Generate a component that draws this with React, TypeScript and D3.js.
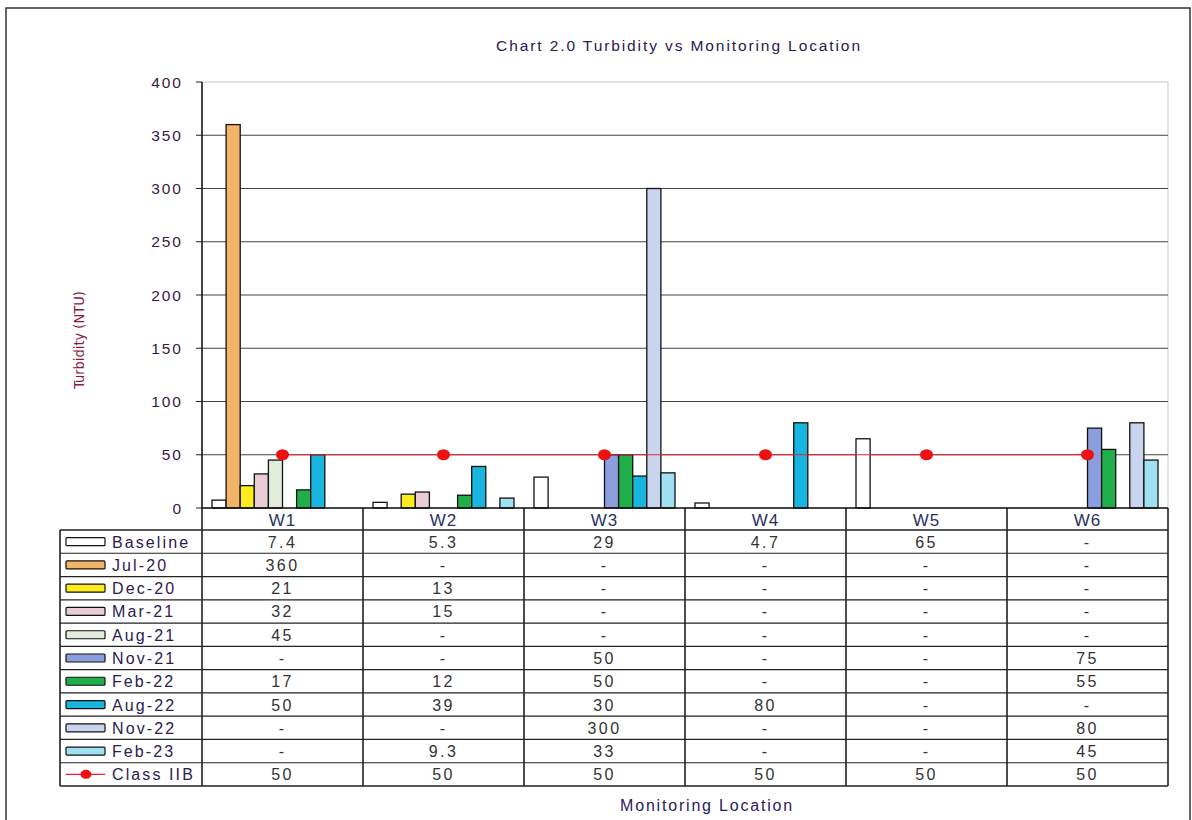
import React from "react";
import * as d3 from "d3";

const categories = ["W1", "W2", "W3", "W4", "W5", "W6"];
const seriesNames = ["Baseline", "Jul-20", "Dec-20", "Mar-21", "Aug-21", "Nov-21", "Feb-22", "Aug-22", "Nov-22", "Feb-23"];
const seriesColors = ["#ffffff", "#f2b568", "#fcec1c", "#e8cdd6", "#e1ecdc", "#8b9ede", "#1fae4a", "#18b6df", "#c9d5ee", "#9fe1f1"];
const baseline = [7.4, 5.3, 29, 4.7, 65, null];
const jul20 = [360, null, null, null, null, null];
const dec20 = [21, 13, null, null, null, null];
const mar21 = [32, 15, null, null, null, null];
const aug21 = [45, null, null, null, null, null];
const nov21 = [null, null, 50, null, null, 75];
const feb22 = [17, 12, 50, null, null, 55];
const aug22 = [50, 39, 30, 80, null, null];
const nov22 = [null, null, 300, null, null, 80];
const feb23 = [null, 9.3, 33, null, null, 45];
const classIIB = [50, 50, 50, 50, 50, 50];
const seriesValues = [baseline, jul20, dec20, mar21, aug21, nov21, feb22, aug22, nov22, feb23];
const yTicks = [0, 50, 100, 150, 200, 250, 300, 350, 400];

const W = 1192, H = 820;
const plotL = 202, plotR = 1168, plotT = 82, plotB = 508;
const tableL = 60, headerB = 530, tableB = 786;

export default function App() {
  const x = d3.scaleBand<string>().domain(categories).range([plotL, plotR]);
  const bw = x.bandwidth();
  const inner = d3.scaleBand<string>().domain(seriesNames).range([10, bw - 10]);
  const y = d3.scaleLinear().domain([0, 400]).range([plotB, plotT]);
  const rowCount = seriesNames.length + 1;
  const rowH = (tableB - headerB) / rowCount;
  const line = d3.line<number>().x((_, i) => (x(categories[i]) as number) + bw / 2).y((v) => y(v));
  const fmt = (v: number | null) => (v === null ? "-" : String(v));
  const txtFont = "Arial, 'Liberation Sans', sans-serif";
  const rows = seriesNames.map((n, i) => ({ name: n, color: seriesColors[i], vals: seriesValues[i] as (number | null)[] }));

  return (
    <svg width={W} height={H} style={{ position: "absolute", left: 0, top: 0, background: "#fff" }} fontFamily={txtFont}>
      <rect x={0} y={0} width={W} height={H} fill="#fff" />
      <rect x={6} y={8} width={1184} height={830} fill="none" stroke="#333" strokeWidth={1.5} />
      <text x={679} y={51} textAnchor="middle" fontSize={15.5} fill="#2a2050" letterSpacing={1.9}>Chart 2.0 Turbidity vs Monitoring Location</text>
      {/* plot border */}
      <rect x={plotL} y={plotT} width={plotR - plotL} height={plotB - plotT} fill="none" stroke="#c8c8c8" strokeWidth={1} />
      {yTicks.map((t) => (
        <g key={t}>
          {t > 0 && t < 400 && <line x1={plotL} x2={plotR} y1={y(t)} y2={y(t)} stroke="#444" strokeWidth={1.1} />}
          <line x1={plotL - 6} x2={plotL} y1={y(t)} y2={y(t)} stroke="#222" strokeWidth={1} />
          <text x={183} y={y(t) + 5.5} textAnchor="end" fontSize={15.5} fill="#3a1845" letterSpacing={2}>{t}</text>
        </g>
      ))}
      <text transform={`translate(84,340) rotate(-90)`} textAnchor="middle" fontSize={14.5} fill="#8a1a3c" fontFamily="'Liberation Sans Narrow', 'DejaVu Sans Condensed', Arial, sans-serif">Turbidity (NTU)</text>
      {/* bars */}
      {categories.map((c, ci) => (
        <g key={c}>
          {rows.map((r) => {
            const v = r.vals[ci];
            if (v === null) return null;
            const bx = (x(c) as number) + (inner(r.name) as number);
            return <rect key={r.name} x={bx} y={y(v)} width={inner.bandwidth()} height={plotB - y(v)} fill={r.color} stroke="#111" strokeWidth={1.3} />;
          })}
        </g>
      ))}
      {/* class IIB line */}
      <path d={line(classIIB) as string} fill="none" stroke="#ee2233" strokeWidth={1.2} />
      {classIIB.map((v, i) => (
        <ellipse key={i} cx={(x(categories[i]) as number) + bw / 2} cy={y(v)} rx={6.5} ry={5.5} fill="#ee1111" />
      ))}
      {/* axis */}
      <line x1={plotL} x2={plotL} y1={plotT} y2={tableB} stroke="#111" strokeWidth={1.5} />
      <line x1={plotL} x2={plotR} y1={plotB} y2={plotB} stroke="#111" strokeWidth={1.5} />
      {/* table */}
      {categories.map((c) => (
        <g key={c}>
          <line x1={(x(c) as number) + bw} x2={(x(c) as number) + bw} y1={plotB} y2={tableB} stroke="#111" strokeWidth={1.5} />
          <text x={(x(c) as number) + bw / 2} y={(plotB + headerB) / 2 + 6.5} textAnchor="middle" fontSize={17} fill="#2a3060" letterSpacing={1}>{c}</text>
        </g>
      ))}
      <line x1={tableL} x2={plotR} y1={headerB} y2={headerB} stroke="#222" strokeWidth={1.3} />
      <line x1={tableL} x2={tableL} y1={headerB} y2={tableB} stroke="#111" strokeWidth={1.5} />
      {d3.range(1, rowCount + 1).map((i) => (
        <line key={i} x1={tableL} x2={plotR} y1={headerB + i * rowH} y2={headerB + i * rowH} stroke="#222" strokeWidth={i === rowCount ? 1.5 : 1.2} />
      ))}
      {rows.map((r, ri) => {
        const cy = headerB + ri * rowH + rowH / 2;
        return (
          <g key={r.name}>
            <rect x={66} y={cy - 4} width={39} height={8} fill={r.color} stroke="#111" strokeWidth={1.2} rx={1} />
            <text x={112} y={cy + 6} fontSize={16} fill="#2a2050" letterSpacing={2.1}>{r.name}</text>
            {categories.map((c, ci) => (
              <text key={c} x={(x(c) as number) + bw / 2} y={cy + 6} textAnchor="middle" fontSize={16} fill="#333" letterSpacing={2.4}>{fmt(r.vals[ci])}</text>
            ))}
          </g>
        );
      })}
      {(() => {
        const cy = headerB + seriesNames.length * rowH + rowH / 2;
        return (
          <g>
            <line x1={66} x2={105} y1={cy} y2={cy} stroke="#ee2233" strokeWidth={1.2} />
            <ellipse cx={86} cy={cy} rx={5.5} ry={4.5} fill="#ee1111" />
            <text x={112} y={cy + 6} fontSize={16} fill="#2a2050" letterSpacing={2.1}>Class IIB</text>
            {categories.map((c, ci) => (
              <text key={c} x={(x(c) as number) + bw / 2} y={cy + 6} textAnchor="middle" fontSize={16} fill="#333" letterSpacing={2.4}>{fmt(classIIB[ci])}</text>
            ))}
          </g>
        );
      })()}
      <text x={707} y={811} textAnchor="middle" fontSize={16} fill="#2a2060" letterSpacing={1.8}>Monitoring Location</text>
    </svg>
  );
}
